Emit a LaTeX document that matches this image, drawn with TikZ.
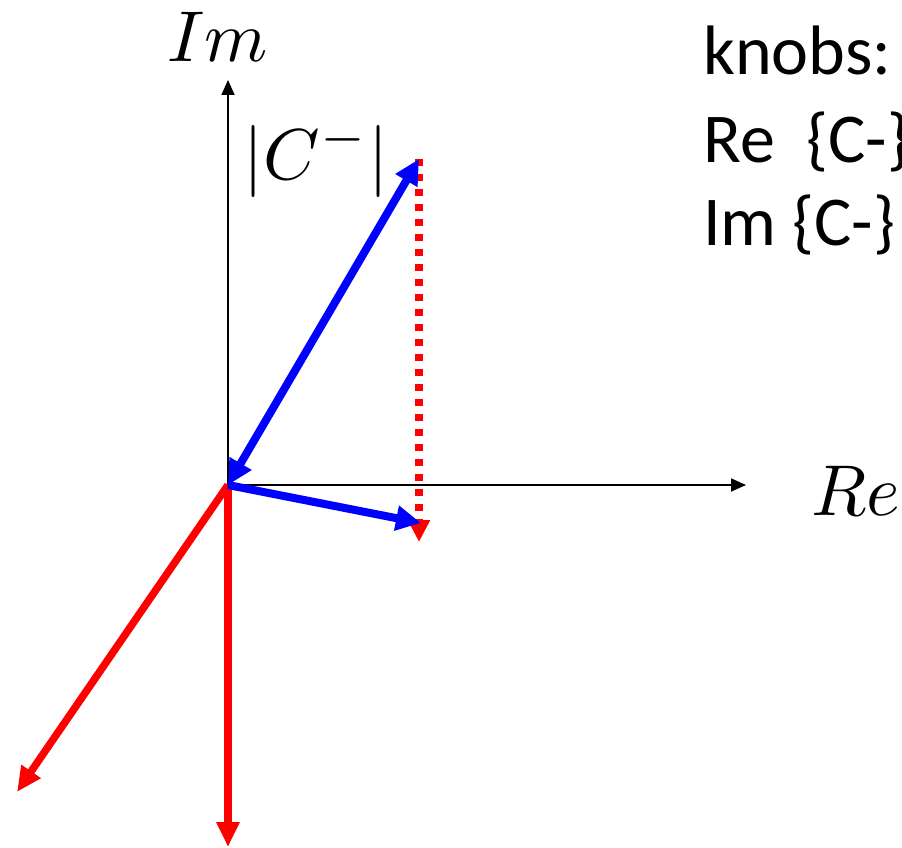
\documentclass[tikz,border=0pt]{standalone}
\usepackage{fontspec}
\setmainfont{Carlito}
\usetikzlibrary{arrows.meta}
\definecolor{vblue}{RGB}{0,0,255}
\definecolor{vred}{RGB}{255,0,0}
\begin{document}
\begin{tikzpicture}[x=1pt,y=-1pt,
  axis/.style={draw=black,line width=1.8pt,-{Triangle[length=15pt,width=13pt]}},
  bluevec/.style={draw=vblue,line width=8pt,-{Triangle[length=25pt,width=24pt]}},
  redvec/.style={draw=vred,line width=7.5pt,-{Triangle[length=25pt,width=22pt]}},
  reddot/.style={draw=vred,line width=7.5pt,dash pattern=on 7pt off 8pt,-{Triangle[length=22pt,width=21pt]}},
  mathlbl/.style={inner sep=0pt,anchor=base west,scale=7.2},
  txt/.style={inner sep=0pt,anchor=base west,font=\fontsize{70}{84}\selectfont}]
\useasboundingbox (0,0) rectangle (902,848);
\coordinate (O) at (228,485);
\coordinate (imtip) at (228,80);
\coordinate (retip) at (746,485);
\coordinate (P) at (419,159);
\coordinate (Q) at (421,523);
\coordinate (R) at (419,542);
\coordinate (D) at (17,792);
\coordinate (V) at (228,847);
% axes
\draw[axis] (O) -- (imtip);
\draw[axis] (O) -- (retip);
% red vectors
\draw[redvec] (O) -- (D);
\draw[redvec] (O) -- (V);
\draw[reddot] (P) -- (R);
% blue vectors
\draw[bluevec,{Triangle[length=25pt,width=24pt]}-{Triangle[length=25pt,width=24pt]}] (O) -- (P);
\draw[bluevec] (O) -- (Q);
% labels
\node[mathlbl] (im) at (166,62) {$Im$};
\node[mathlbl] (re) at (810,515) {$Re$};
\node[mathlbl] (cm) at (242,179) {$|C^-|$};
\node[txt] (t1) at (703,75) {knobs:};
\node[txt] (t2) at (703,163) {Re\hspace{0.45em}\{C-\}};
\node[txt] (t3) at (703,245) {Im \{C-\}};
\end{tikzpicture}
\end{document}
